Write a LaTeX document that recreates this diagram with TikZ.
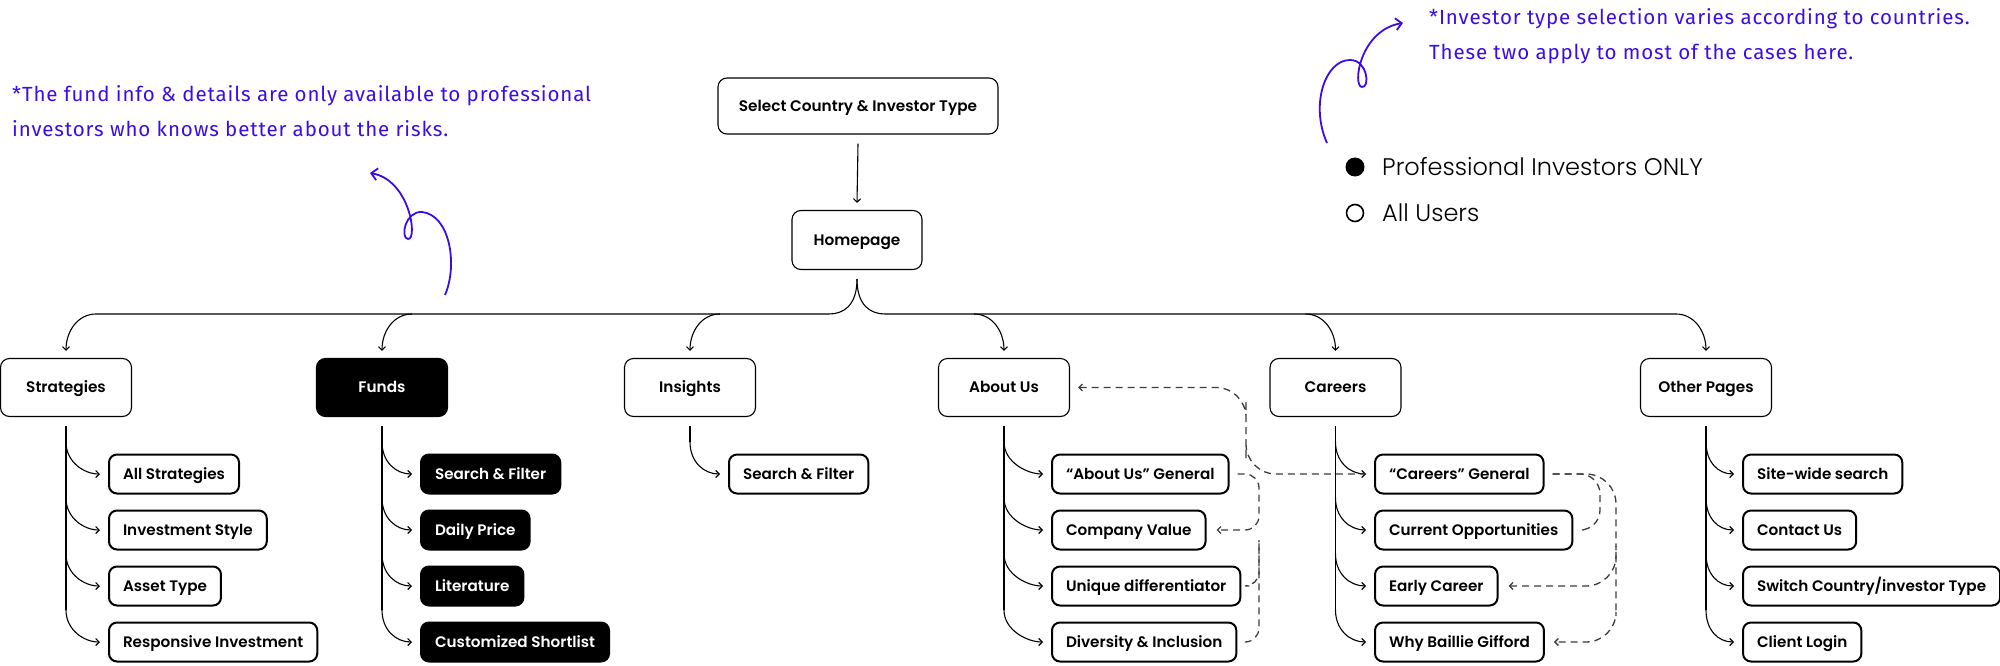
\documentclass[tikz,border=0pt]{standalone}
\usepackage{fontspec}
\setmainfont{Poppins}
\newfontfamily\boxfont{Poppins SemiBold}
\newfontfamily\legendfont{Poppins Light}
\newfontfamily\notefont{Fira Sans}[LetterSpace=4.2]
\usetikzlibrary{arrows.meta,calc}
\definecolor{noteblue}{RGB}{60,12,230}
\definecolor{linkgray}{RGB}{60,60,60}

\begin{document}
\begin{tikzpicture}[
    x=1pt, y=-1pt,
    pagebox/.style={draw=black, line width=1.1pt, rounded corners=9pt, minimum width=131pt, minimum height=58pt, text height=10.8pt, text depth=0pt, font=\boxfont\fontsize{15.3}{18}\selectfont, align=center},
    subbox/.style={draw=black, line width=2pt, rounded corners=8pt, minimum height=39pt, inner xsep=14pt, text height=10.8pt, text depth=0pt, anchor=west, font=\boxfont\fontsize{15.2}{18}\selectfont},
    probox/.style={fill=black, text=white},
    branch/.style={line width=1.1pt, -{Straight Barb[length=3.5pt,width=7pt]}},
    trunk/.style={line width=1.1pt},
    dashlink/.style={draw=linkgray, line width=1.3pt, dash pattern=on 7pt off 5pt},
    notetext/.style={text=noteblue, font=\notefont\fontsize{20.5}{35}\selectfont, align=left, inner sep=0pt, anchor=west},
    squiggle/.style={draw=noteblue, line width=1.8pt, -{Straight Barb[length=6pt,width=12pt]}},
    legendtext/.style={anchor=west, inner sep=0pt, font=\legendfont\fontsize{24}{28}\selectfont}
]
\useasboundingbox (0,0) rectangle (2000,666);

% Top nodes
\node[pagebox, minimum width=280pt, minimum height=56pt] (select) at (858,106) {Select Country \& Investor Type};
\node[pagebox, minimum width=130pt, minimum height=59pt] (homepage) at (857,240) {Homepage};

% Main sections
\node[pagebox] (strategies) at (66,387.5) {Strategies};
\node[pagebox, probox] (funds) at (382,387.5) {Funds};
\node[pagebox] (insights) at (690,387.5) {Insights};
\node[pagebox] (aboutus) at (1004,387.5) {About Us};
\node[pagebox] (careers) at (1335.5,387.5) {Careers};
\node[pagebox] (otherpages) at (1706,387.5) {Other Pages};

% Sub pages
\node[subbox] (allstrat) at (108,474) {All Strategies};
\node[subbox] (invstyle) at (108,530) {Investment Style};
\node[subbox] (assettype) at (108,586) {Asset Type};
\node[subbox] (respinv) at (108,642) {Responsive Investment};

\node[subbox, probox] (fundsearch) at (420,474) {Search \& Filter};
\node[subbox, probox] (dailyprice) at (420,530) {Daily Price};
\node[subbox, probox] (literature) at (420,586) {Literature};
\node[subbox, probox] (shortlist) at (420,642) {Customized Shortlist};

\node[subbox] (insightsearch) at (728,474) {Search \& Filter};

\node[subbox] (aboutgen) at (1051,474) {“About Us” General};
\node[subbox] (compvalue) at (1051,530) {Company Value};
\node[subbox] (uniquediff) at (1051,586) {Unique differentiator};
\node[subbox] (diversity) at (1051,642) {Diversity \& Inclusion};

\node[subbox] (careersgen) at (1374,474) {“Careers” General};
\node[subbox] (curropp) at (1374,530) {Current Opportunities};
\node[subbox] (earlycareer) at (1374,586) {Early Career};
\node[subbox] (whybg) at (1374,642) {Why Baillie Gifford};

\node[subbox] (sitesearch) at (1742,474) {Site-wide search};
\node[subbox] (contactus) at (1742,530) {Contact Us};
\node[subbox] (switchtype) at (1742,586) {Switch Country/investor Type};
\node[subbox] (clientlogin) at (1742,642) {Client Login};

% Notes
\node[notetext] (fundnote) at (12,111) {*The fund info \& details are only available to professional\\investors who knows better about the risks.};
\node[notetext] (typenote) at (1429,36.5) {*Investor type selection varies according to countries.\\These two apply to most of the cases here.};

% Legend
\node[circle, fill=black, minimum size=19pt, inner sep=0pt] (prodot) at (1355,167) {};
\node[circle, draw=black, line width=1.6pt, minimum size=17pt, inner sep=0pt] (alldot) at (1355,213) {};
\node[legendtext] (prolabel) at (1382,167) {Professional Investors ONLY};
\node[legendtext] (alllabel) at (1382,213) {All Users};

% Squiggly note arrows
\draw[squiggle] (445,295) .. controls (458,265) and (450,215) .. (422,212) .. controls (405,211) and (400,238) .. (408,239) .. controls (418,240) and (410,180) .. (370,173);
\draw[squiggle] (1327,143) .. controls (1310,105) and (1325,60) .. (1350,60) .. controls (1368,60) and (1370,88) .. (1362,87) .. controls (1352,86) and (1360,30) .. (1403,23);

% Select -> Homepage
\draw[branch] ([yshift=-9pt]select.south) -- ([yshift=7pt]homepage.north);

% Hub
\coordinate (hub) at ([yshift=-9pt]homepage.south);
\coordinate (busleft) at (96,314);
\coordinate (busright) at (1676,314);
\draw[trunk] (hub) .. controls +(0,27) and +(14,0) .. ($(hub |- busleft)+(-28,0)$) -- (busleft);
\draw[trunk] (hub) .. controls +(0,27) and +(-14,0) .. ($(hub |- busleft)+(28,0)$) -- (busright);

\draw[branch] (busleft) .. controls +(-18,0) and +(0,-20) .. ([yshift=7pt]strategies.north);
\draw[branch] ($(funds.north |- busleft)+(30,0)$) .. controls +(-18,0) and +(0,-20) .. ([yshift=7pt]funds.north);
\draw[branch] ($(insights.north |- busleft)+(30,0)$) .. controls +(-18,0) and +(0,-20) .. ([yshift=7pt]insights.north);
\draw[branch] ($(aboutus.north |- busleft)+(-30,0)$) .. controls +(18,0) and +(0,-20) .. ([yshift=7pt]aboutus.north);
\draw[branch] ($(careers.north |- busleft)+(-30,0)$) .. controls +(18,0) and +(0,-20) .. ([yshift=7pt]careers.north);
\draw[branch] (busright) .. controls +(18,0) and +(0,-20) .. ([yshift=7pt]otherpages.north);

% Strategies branch
\draw[trunk] ([yshift=-9pt]strategies.south) -- ($(strategies.south |- respinv.west)+(0,-32)$);
\draw[branch] ($(strategies.south |- allstrat.west)+(0,-32)$) .. controls +(0,20) and +(-16,0) .. ([xshift=-8pt]allstrat.west);
\draw[branch] ($(strategies.south |- invstyle.west)+(0,-32)$) .. controls +(0,20) and +(-16,0) .. ([xshift=-8pt]invstyle.west);
\draw[branch] ($(strategies.south |- assettype.west)+(0,-32)$) .. controls +(0,20) and +(-16,0) .. ([xshift=-8pt]assettype.west);
\draw[branch] ($(strategies.south |- respinv.west)+(0,-32)$) .. controls +(0,20) and +(-16,0) .. ([xshift=-8pt]respinv.west);

% Funds branch
\draw[trunk] ([yshift=-9pt]funds.south) -- ($(funds.south |- shortlist.west)+(0,-32)$);
\draw[branch] ($(funds.south |- fundsearch.west)+(0,-32)$) .. controls +(0,20) and +(-16,0) .. ([xshift=-8pt]fundsearch.west);
\draw[branch] ($(funds.south |- dailyprice.west)+(0,-32)$) .. controls +(0,20) and +(-16,0) .. ([xshift=-8pt]dailyprice.west);
\draw[branch] ($(funds.south |- literature.west)+(0,-32)$) .. controls +(0,20) and +(-16,0) .. ([xshift=-8pt]literature.west);
\draw[branch] ($(funds.south |- shortlist.west)+(0,-32)$) .. controls +(0,20) and +(-16,0) .. ([xshift=-8pt]shortlist.west);

% Insights branch
\draw[trunk] ([yshift=-9pt]insights.south) -- ($(insights.south |- insightsearch.west)+(0,-32)$);
\draw[branch] ($(insights.south |- insightsearch.west)+(0,-32)$) .. controls +(0,20) and +(-16,0) .. ([xshift=-8pt]insightsearch.west);

% About Us branch
\draw[trunk] ([yshift=-9pt]aboutus.south) -- ($(aboutus.south |- diversity.west)+(0,-32)$);
\draw[branch] ($(aboutus.south |- aboutgen.west)+(0,-32)$) .. controls +(0,20) and +(-16,0) .. ([xshift=-8pt]aboutgen.west);
\draw[branch] ($(aboutus.south |- compvalue.west)+(0,-32)$) .. controls +(0,20) and +(-16,0) .. ([xshift=-8pt]compvalue.west);
\draw[branch] ($(aboutus.south |- uniquediff.west)+(0,-32)$) .. controls +(0,20) and +(-16,0) .. ([xshift=-8pt]uniquediff.west);
\draw[branch] ($(aboutus.south |- diversity.west)+(0,-32)$) .. controls +(0,20) and +(-16,0) .. ([xshift=-8pt]diversity.west);

% Careers branch
\draw[trunk] ([yshift=-9pt]careers.south) -- ($(careers.south |- whybg.west)+(0,-32)$);
\draw[branch] ($(careers.south |- careersgen.west)+(0,-32)$) .. controls +(0,20) and +(-16,0) .. ([xshift=-8pt]careersgen.west);
\draw[branch] ($(careers.south |- curropp.west)+(0,-32)$) .. controls +(0,20) and +(-16,0) .. ([xshift=-8pt]curropp.west);
\draw[branch] ($(careers.south |- earlycareer.west)+(0,-32)$) .. controls +(0,20) and +(-16,0) .. ([xshift=-8pt]earlycareer.west);
\draw[branch] ($(careers.south |- whybg.west)+(0,-32)$) .. controls +(0,20) and +(-16,0) .. ([xshift=-8pt]whybg.west);

% Other Pages branch
\draw[trunk] ([yshift=-9pt]otherpages.south) -- ($(otherpages.south |- clientlogin.west)+(0,-32)$);
\draw[branch] ($(otherpages.south |- sitesearch.west)+(0,-32)$) .. controls +(0,20) and +(-16,0) .. ([xshift=-8pt]sitesearch.west);
\draw[branch] ($(otherpages.south |- contactus.west)+(0,-32)$) .. controls +(0,20) and +(-16,0) .. ([xshift=-8pt]contactus.west);
\draw[branch] ($(otherpages.south |- switchtype.west)+(0,-32)$) .. controls +(0,20) and +(-16,0) .. ([xshift=-8pt]switchtype.west);
\draw[branch] ($(otherpages.south |- clientlogin.west)+(0,-32)$) .. controls +(0,20) and +(-16,0) .. ([xshift=-8pt]clientlogin.west);

% Dashed cross links
\coordinate (aboutjog) at (1246,430);
\coordinate (aboutbus) at (1259,530);
\coordinate (careerinner) at (1600,530);
\coordinate (careerbus) at (1616,586);

\draw[dashlink, rounded corners=30pt, {Straight Barb[length=3.5pt,width=7pt]}-] ([xshift=8pt]aboutus.east) -| (aboutjog) |- ([xshift=-8pt]careersgen.west);

\draw[dashlink, rounded corners=14pt, -{Straight Barb[length=3.5pt,width=7pt]}] ([xshift=8pt]aboutgen.east) -| (aboutbus) -- ([xshift=10pt]compvalue.east);
\draw[dashlink, rounded corners=14pt] ([xshift=8pt]uniquediff.east) -| ($(aboutbus)+(0,10)$);
\draw[dashlink, rounded corners=14pt] ([xshift=8pt]diversity.east) -| ($(aboutbus)+(0,10)$);

\draw[dashlink, rounded corners=20pt] ([xshift=8pt]careersgen.east) -| (careerinner) -- ([xshift=10pt]curropp.east);
\draw[dashlink, rounded corners=30pt, -{Straight Barb[length=3.5pt,width=7pt]}] ([xshift=8pt]careersgen.east) -| (careerbus) |- ([xshift=9pt]whybg.east);
\draw[dashlink, rounded corners=30pt, {Straight Barb[length=3.5pt,width=7pt]}-] ([xshift=10pt]earlycareer.east) -| ($(careerbus)+(0,-40)$);

\end{tikzpicture}
\end{document}
